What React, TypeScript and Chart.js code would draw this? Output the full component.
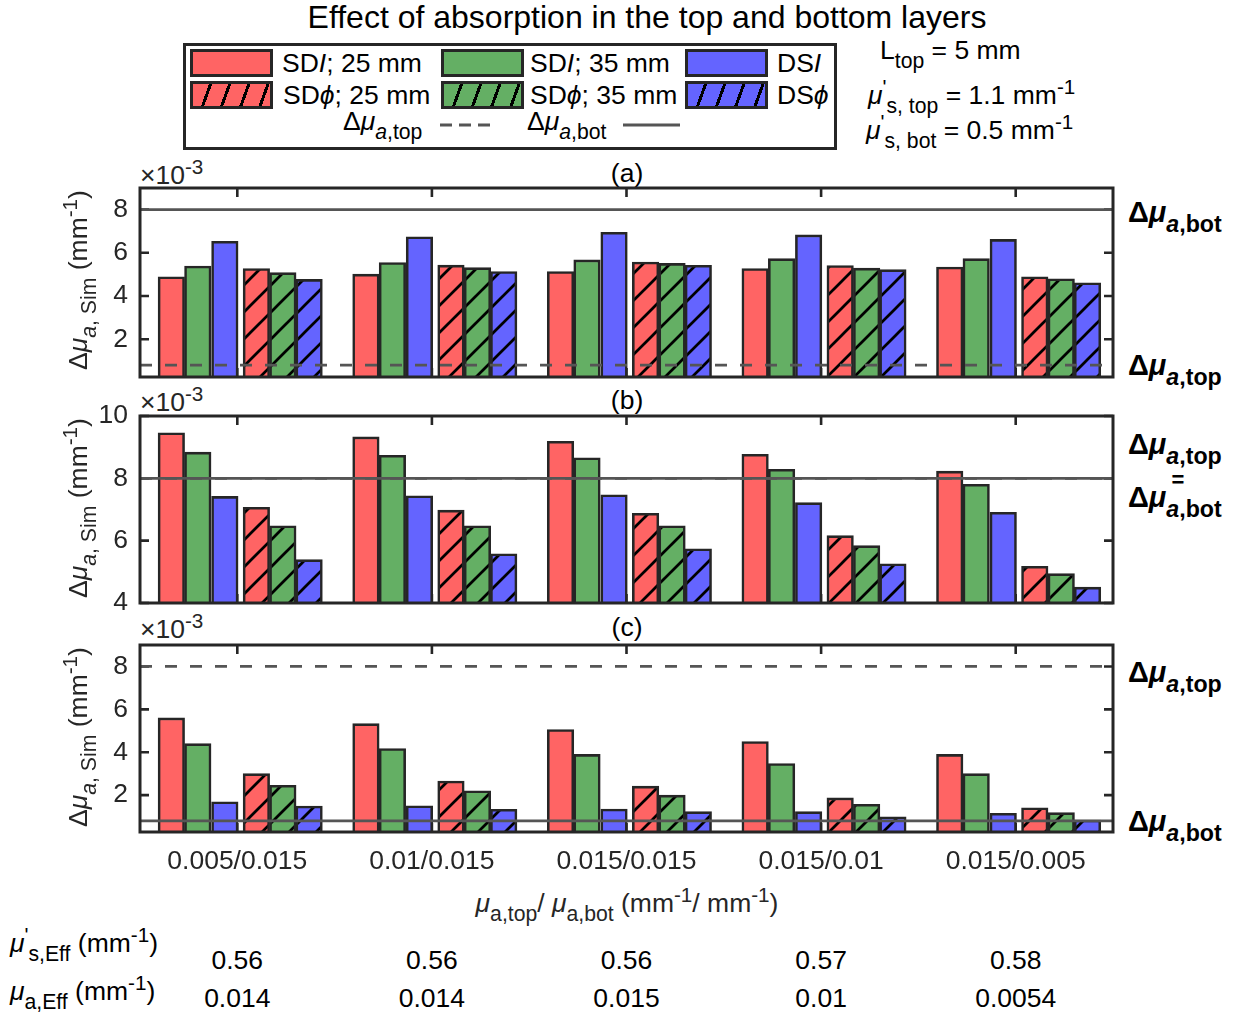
import React, { useEffect, useRef } from "react";
import { Chart, registerables } from "chart.js";

Chart.register(...registerables);

// ---- data (Δμa values in units of 10^-3 mm^-1) ----
const categories = ["0.005/0.015", "0.01/0.015", "0.015/0.015", "0.015/0.01", "0.015/0.005"];

// panel (a)
const aSDI25 = [4.89, 5.01, 5.13, 5.27, 5.34];
const aSDI35 = [5.39, 5.55, 5.67, 5.73, 5.73];
const aDSI = [6.53, 6.74, 6.95, 6.83, 6.62];
const aSDP25 = [5.27, 5.43, 5.57, 5.41, 4.89];
const aSDP35 = [5.08, 5.31, 5.51, 5.29, 4.8];
const aDSP = [4.77, 5.13, 5.42, 5.22, 4.61];
const aTopRef = 0.8;
const aBotRef = 8;
const aTicks = [2, 4, 6, 8];

// panel (b)
const bSDI25 = [9.46, 9.33, 9.19, 8.77, 8.23];
const bSDI35 = [8.84, 8.74, 8.66, 8.29, 7.81];
const bDSI = [7.42, 7.44, 7.47, 7.22, 6.91];
const bSDP25 = [7.07, 6.98, 6.88, 6.16, 5.18];
const bSDP35 = [6.48, 6.48, 6.48, 5.84, 4.94];
const bDSP = [5.39, 5.58, 5.74, 5.26, 4.51];
const bTopRef = 8;
const bBotRef = 8;
const bTicks = [4, 6, 8, 10];

// panel (c)
const cSDI25 = [5.6, 5.33, 5.06, 4.5, 3.9];
const cSDI35 = [4.4, 4.17, 3.9, 3.47, 3.0];
const cDSI = [1.69, 1.5, 1.35, 1.23, 1.15];
const cSDP25 = [3.0, 2.66, 2.42, 1.87, 1.41];
const cSDP35 = [2.46, 2.2, 2.0, 1.57, 1.18];
const cDSP = [1.49, 1.34, 1.23, 0.99, 0.84];
const cTopRef = 8;
const cBotRef = 0.8;
const cTicks = [2, 4, 6, 8];

// effective optical properties table
const musEff = ["0.56", "0.56", "0.56", "0.57", "0.58"];
const muaEff = ["0.014", "0.014", "0.015", "0.01", "0.0054"];

// ---- style ----
const FONT = "'Liberation Sans', Arial, Helvetica, sans-serif";
const FS = 26.5;
const EDGE = "#262626";
const REF_COLOR = "#555555";
const RED = "rgb(255,100,100)";
const GREEN = "rgb(100,175,100)";
const BLUE = "rgb(100,100,255)";
const SERIES_COLORS = [RED, GREEN, BLUE, RED, GREEN, BLUE];
const HATCHED = [false, false, false, true, true, true];
// bar centre offsets within a group (category units)
const BAR_OFFSETS = [-0.339, -0.203, -0.064, 0.098, 0.234, 0.369];
const BAR_W = 26.5;

const CANVAS_LEFT = 60;
const CANVAS_W = 1059;
const AXIS_W = 80;
const PLOT_LEFT = CANVAS_LEFT + AXIS_W;
const PLOT_W = 973;
const PAD = 16;
const X_AXIS_H = 50;

function hatch(ctx: CanvasRenderingContext2D, color: string) {
  const s = 27;
  const tile = document.createElement("canvas");
  tile.width = s;
  tile.height = s;
  const g = tile.getContext("2d")!;
  g.fillStyle = color;
  g.fillRect(0, 0, s, s);
  g.strokeStyle = "#000";
  g.lineWidth = 2.7;
  for (const o of [-s, 0, s]) {
    g.beginPath();
    g.moveTo(o - 2, s + 2);
    g.lineTo(o + s + 2, -2);
    g.stroke();
  }
  return ctx.createPattern(tile, "repeat");
}

type PanelProps = {
  areaTop: number;
  areaBottom: number;
  series: number[][];
  topRef: number;
  botRef: number;
  yMin: number;
  yMax: number;
  yTicks: number[];
  showX: boolean;
};

function zeroPadding(s: any) {
  s.paddingTop = 0;
  s.paddingBottom = 0;
  s.paddingLeft = 0;
  s.paddingRight = 0;
}

function Panel(p: PanelProps) {
  const ref = useRef<HTMLCanvasElement>(null);
  const top = p.areaTop - PAD;
  const height = p.areaBottom - p.areaTop + PAD + (p.showX ? X_AXIS_H : PAD);
  useEffect(() => {
    const canvas = ref.current!;
    const ctx = canvas.getContext("2d")!;
    const fills = SERIES_COLORS.map((c, i) => (HATCHED[i] ? hatch(ctx, c) : c));

    const refLine = (v: number, dashed: boolean) => ({
      type: "line" as const,
      data: [
        { x: 0.5, y: v },
        { x: 5.5, y: v },
      ],
      borderColor: REF_COLOR,
      borderWidth: 2.8,
      borderDash: dashed ? [12, 13] : [],
      pointRadius: 0,
      order: 0,
    });

    const frame = {
      id: "frame",
      beforeDatasetsDraw(chart: any) {
        const { ctx: c, chartArea: a, scales } = chart;
        const L = 9;
        c.save();
        c.strokeStyle = EDGE;
        c.lineWidth = 2.6;
        c.beginPath();
        for (const v of p.yTicks) {
          const y = scales.y.getPixelForValue(v);
          c.moveTo(a.left, y);
          c.lineTo(a.left + L, y);
          c.moveTo(a.right, y);
          c.lineTo(a.right - L, y);
        }
        categories.forEach((_, k) => {
          const x = scales.x.getPixelForValue(k + 1);
          c.moveTo(x, a.top);
          c.lineTo(x, a.top + L);
          c.moveTo(x, a.bottom);
          c.lineTo(x, a.bottom - L);
        });
        c.stroke();
        c.restore();
      },
      afterDraw(chart: any) {
        const { ctx: c, chartArea: a } = chart;
        c.save();
        c.strokeStyle = EDGE;
        c.lineWidth = 3;
        c.strokeRect(a.left, a.top, a.right - a.left, a.bottom - a.top);
        c.restore();
      },
    };

    const chart = new Chart(ctx, {
      type: "bar",
      data: {
        datasets: [
          refLine(p.topRef, true),
          refLine(p.botRef, false),
          ...p.series.map((vals, i) => ({
            type: "bar" as const,
            data: vals.map((v, k) => ({ x: k + 1 + BAR_OFFSETS[i], y: v })),
            backgroundColor: fills[i],
            borderColor: EDGE,
            borderWidth: 2.6,
            barThickness: BAR_W,
            grouped: false,
            order: 1,
          })),
        ],
      } as any,
      options: {
        responsive: false,
        animation: false,
        events: [],
        layout: { padding: { left: 0, right: 6, top: PAD, bottom: p.showX ? 0 : PAD } },
        plugins: {
          legend: { display: false },
          tooltip: { enabled: false },
        },
        scales: {
          x: {
            type: "linear",
            min: 0.5,
            max: 5.5,
            offset: false,
            display: p.showX,
            grid: { display: false, drawTicks: false },
            border: { display: false },
            afterBuildTicks: (s: any) => {
              s.ticks = categories.map((_, k) => ({ value: k + 1 }));
            },
            afterFit: (s: any) => {
              s.height = p.showX ? X_AXIS_H : 0;
              zeroPadding(s);
            },
            ticks: {
              font: { family: FONT, size: FS },
              color: EDGE,
              padding: 14,
              maxRotation: 0,
              autoSkip: false,
              callback: (v: any) => categories[Math.round(Number(v)) - 1] ?? "",
            },
          },
          y: {
            type: "linear",
            min: p.yMin,
            max: p.yMax,
            grid: { display: false, drawTicks: false },
            border: { display: false },
            afterBuildTicks: (s: any) => {
              s.ticks = p.yTicks.map((v) => ({ value: v }));
            },
            afterFit: (s: any) => {
              s.width = AXIS_W;
              zeroPadding(s);
            },
            ticks: {
              font: { family: FONT, size: FS },
              color: EDGE,
              padding: 12,
              callback: (v: any) => String(v),
            },
          },
        },
      } as any,
      plugins: [frame],
    });
    return () => chart.destroy();
  }, []);
  return (
    <canvas
      ref={ref}
      width={CANVAS_W}
      height={height}
      style={{ position: "absolute", left: CANVAS_LEFT, top, width: CANVAS_W, height }}
    />
  );
}

// ---- text helpers ----
const Sub = ({ children, bold }: any) => (
  <span style={{ fontSize: "0.8em", position: "relative", top: "0.42em", fontWeight: bold ? 700 : 400 }}>{children}</span>
);
const Sup = ({ children }: any) => (
  <span style={{ fontSize: "0.78em", position: "relative", top: "-0.5em" }}>{children}</span>
);
const Mu = () => <span style={{ fontStyle: "italic" }}>μ</span>;

function Txt({ x, y, size = FS, anchor = "left", bold = false, children, color = "#000" }: any) {
  const tx = anchor === "center" ? "-50%" : anchor === "right" ? "-100%" : "0";
  return (
    <div
      style={{
        position: "absolute",
        left: x,
        top: y,
        transform: `translate(${tx}, -50%)`,
        fontSize: size,
        fontWeight: bold ? 700 : 400,
        whiteSpace: "nowrap",
        lineHeight: 1,
        color,
      }}
    >
      {children}
    </div>
  );
}

function YTitle({ y }: { y: number }) {
  return (
    <div
      style={{
        position: "absolute",
        left: 78,
        top: y,
        transform: "translate(-50%, -50%) rotate(-90deg)",
        fontSize: FS,
        whiteSpace: "nowrap",
        lineHeight: 1,
        color: EDGE,
      }}
    >
      Δ<Mu />
      <Sub>
        <i>a</i>, Sim
      </Sub>{" "}
      (mm<Sup>-1</Sup>)
    </div>
  );
}

const DMu = ({ sub, bold }: any) => (
  <>
    Δ<Mu />
    <Sub bold={bold}>
      <i>a</i>,{sub}
    </Sub>
  </>
);

function Swatch({ x, y, color, hatched }: any) {
  return (
    <div
      style={{
        position: "absolute",
        left: x,
        top: y,
        width: 83,
        height: 28,
        boxSizing: "border-box",
        border: `3px solid ${EDGE}`,
        background: hatched
          ? `repeating-linear-gradient(110deg, ${color} 0px, ${color} 15px, #000 15px, #000 18px)`
          : color,
      }}
    />
  );
}

export default function App() {
  const catX = (k: number) => PLOT_LEFT + (k + 0.5) * (PLOT_W / categories.length);
  return (
    <div
      style={{
        position: "absolute",
        left: 0,
        top: 0,
        width: 1236,
        height: 1019,
        background: "#fff",
        fontFamily: FONT,
        color: "#000",
        overflow: "hidden",
      }}
    >
      <Txt x={647} y={17} size={32} anchor="center">
        Effect of absorption in the top and bottom layers
      </Txt>

      {/* legend */}
      <div
        style={{
          position: "absolute",
          left: 183,
          top: 43,
          width: 654,
          height: 107,
          boxSizing: "border-box",
          border: `3px solid ${EDGE}`,
        }}
      />
      <Swatch x={190} y={49} color={RED} />
      <Swatch x={441} y={49} color={GREEN} />
      <Swatch x={685} y={49} color={BLUE} />
      <Swatch x={190} y={81} color={RED} hatched />
      <Swatch x={441} y={81} color={GREEN} hatched />
      <Swatch x={685} y={81} color={BLUE} hatched />
      <Txt x={282} y={63}>
        SD<i>I</i>; 25 mm
      </Txt>
      <Txt x={530} y={63}>
        SD<i>I</i>; 35 mm
      </Txt>
      <Txt x={777} y={63}>
        DS<i>I</i>
      </Txt>
      <Txt x={283} y={95}>
        SD<i>ϕ</i>; 25 mm
      </Txt>
      <Txt x={530} y={95}>
        SD<i>ϕ</i>; 35 mm
      </Txt>
      <Txt x={777} y={95}>
        DS<i>ϕ</i>
      </Txt>
      <Txt x={343} y={121}>
        <DMu sub="top" />
      </Txt>
      <Txt x={527} y={121}>
        <DMu sub="bot" />
      </Txt>
      <svg style={{ position: "absolute", left: 0, top: 0 }} width={1236} height={160}>
        <line x1={440} y1={125} x2={492} y2={125} stroke={REF_COLOR} strokeWidth={3} strokeDasharray="12 7" />
        <line x1={623} y1={125} x2={680} y2={125} stroke={REF_COLOR} strokeWidth={3} />
      </svg>

      {/* layer parameters */}
      <Txt x={880} y={50}>
        L<Sub>top</Sub> = 5 mm
      </Txt>
      <Txt x={868} y={95}>
        <Mu />
        <Sup>'</Sup>
        <Sub>s, top</Sub> = 1.1 mm<Sup>-1</Sup>
      </Txt>
      <Txt x={866} y={130}>
        <Mu />
        <Sup>'</Sup>
        <Sub>s, bot</Sub> = 0.5 mm<Sup>-1</Sup>
      </Txt>

      {/* panel headers */}
      {[173, 400, 627].map((y, i) => (
        <React.Fragment key={y}>
          <Txt x={627} y={y} size={FS} anchor="center">
            ({"abc"[i]})
          </Txt>
          <Txt x={140} y={y + 2} size={FS} color={EDGE}>
            ×10<Sup>-3</Sup>
          </Txt>
        </React.Fragment>
      ))}

      <Panel
        areaTop={188}
        areaBottom={377}
        series={[aSDI25, aSDI35, aDSI, aSDP25, aSDP35, aDSP]}
        topRef={aTopRef}
        botRef={aBotRef}
        yMin={0.25}
        yMax={9}
        yTicks={aTicks}
        showX={false}
      />
      <Panel
        areaTop={416}
        areaBottom={603}
        series={[bSDI25, bSDI35, bDSI, bSDP25, bSDP35, bDSP]}
        topRef={bTopRef}
        botRef={bBotRef}
        yMin={4}
        yMax={10}
        yTicks={bTicks}
        showX={false}
      />
      <Panel
        areaTop={645}
        areaBottom={832}
        series={[cSDI25, cSDI35, cDSI, cSDP25, cSDP35, cDSP]}
        topRef={cTopRef}
        botRef={cBotRef}
        yMin={0.28}
        yMax={9}
        yTicks={cTicks}
        showX={true}
      />

      <YTitle y={280} />
      <YTitle y={508} />
      <YTitle y={737} />

      {/* reference level annotations */}
      <Txt x={1128} y={212} size={29} bold>
        <DMu sub="bot" bold />
      </Txt>
      <Txt x={1128} y={365} size={29} bold>
        <DMu sub="top" bold />
      </Txt>
      <Txt x={1128} y={444} size={29} bold>
        <DMu sub="top" bold />
      </Txt>
      <Txt x={1178} y={480} size={22} bold anchor="center">
        =
      </Txt>
      <Txt x={1128} y={497} size={29} bold>
        <DMu sub="bot" bold />
      </Txt>
      <Txt x={1128} y={672} size={29} bold>
        <DMu sub="top" bold />
      </Txt>
      <Txt x={1128} y={821} size={29} bold>
        <DMu sub="bot" bold />
      </Txt>

      {/* x-axis title */}
      <Txt x={627} y={903} anchor="center" color={EDGE}>
        <Mu />
        <Sub>a,top</Sub>/ <Mu />
        <Sub>a,bot</Sub> (mm<Sup>-1</Sup>/ mm<Sup>-1</Sup>)
      </Txt>

      {/* effective properties table */}
      <Txt x={10} y={943}>
        <Mu />
        <Sup>'</Sup>
        <Sub>s,Eff</Sub> (mm<Sup>-1</Sup>)
      </Txt>
      <Txt x={10} y={991}>
        <Mu />
        <Sub>a,Eff</Sub> (mm<Sup>-1</Sup>)
      </Txt>
      {musEff.map((t, k) => (
        <Txt key={"s" + k} x={catX(k)} y={960} anchor="center">
          {t}
        </Txt>
      ))}
      {muaEff.map((t, k) => (
        <Txt key={"a" + k} x={catX(k)} y={998} anchor="center">
          {t}
        </Txt>
      ))}
    </div>
  );
}
